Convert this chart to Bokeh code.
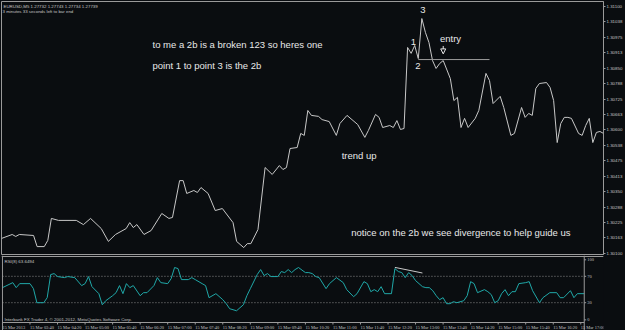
from bokeh.plotting import figure
from bokeh.layouts import column
from bokeh.models import (Range1d, LinearAxis, FixedTicker, Label, LabelSet, ColumnDataSource,
                          Span, PrintfTickFormatter, Arrow, NormalHead)
from bokeh.embed import file_html
from bokeh.resources import INLINE

# ---------------- data ----------------
# bar index (M5 bars from 15 Mar 03:00) and close price at the line's vertices
price_t = [0, 3, 4, 5, 9, 10, 12, 13, 14, 16, 21, 23, 25, 28, 30, 32, 35, 36, 37, 38,
           40, 42, 45, 47, 48, 50, 51, 52, 54, 55, 56, 58, 60, 62, 65, 66, 68, 69, 70, 72,
           74, 76, 78, 79, 80, 81, 83, 84, 85, 86, 87, 89, 90, 92, 94, 95, 97, 100, 102, 103,
           105, 106, 107, 109, 110, 111, 112, 113, 114, 115, 116, 117, 118, 119, 120, 121, 122, 123, 124, 126,
           127, 128, 129, 130, 131, 133, 134, 136, 137, 138, 140, 141, 143, 144, 146, 147, 148, 149, 150, 151,
           153, 154, 155, 156, 157, 158, 159, 160, 162, 163, 164, 165, 166, 167, 168, 169]
price_close = [1.30161, 1.30177, 1.30169, 1.30177, 1.30173, 1.30128, 1.30128, 1.30153, 1.30242, 1.30234,
               1.30234, 1.30217, 1.30242, 1.30201, 1.30149, 1.30177, 1.30201, 1.30225, 1.30205, 1.30217,
               1.30177, 1.30193, 1.30262, 1.30242, 1.30246, 1.30395, 1.30395, 1.30343, 1.30355, 1.30347,
               1.30367, 1.30343, 1.30274, 1.30282, 1.30225, 1.30149, 1.30124, 1.30140, 1.30140, 1.30197,
               1.30448, 1.30420, 1.30456, 1.30440, 1.30448, 1.30525, 1.30529, 1.30586, 1.30578, 1.30679,
               1.30659, 1.30655, 1.30642, 1.30634, 1.30578, 1.30626, 1.30659, 1.30622, 1.30570, 1.30598,
               1.30663, 1.30651, 1.30610, 1.30618, 1.30610, 1.30638, 1.30602, 1.30606, 1.30934, 1.30910,
               1.30942, 1.30889, 1.31051, 1.30995, 1.30954, 1.30881, 1.30849, 1.30869, 1.30881, 1.30808,
               1.30719, 1.30732, 1.30610, 1.30647, 1.30610, 1.30647, 1.30679, 1.30829, 1.30800, 1.30707,
               1.30736, 1.30691, 1.30578, 1.30586, 1.30691, 1.30651, 1.30667, 1.30659, 1.30768, 1.30788,
               1.30792, 1.30772, 1.30719, 1.30549, 1.30626, 1.30651, 1.30651, 1.30647, 1.30586, 1.30578,
               1.30618, 1.30647, 1.30549, 1.30590, 1.30594, 1.30586]

rsi_t = [0, 3, 4, 5, 8, 9, 10, 12, 13, 14, 15, 16, 18, 19, 21, 23, 24, 25, 26, 28,
         29, 30, 32, 33, 34, 35, 36, 37, 38, 40, 41, 42, 44, 45, 46, 48, 49, 50, 51, 52,
         54, 55, 56, 58, 59, 60, 62, 64, 65, 66, 68, 69, 70, 71, 72, 74, 75, 76, 77, 78,
         80, 81, 82, 83, 84, 85, 86, 88, 89, 90, 91, 92, 94, 95, 97, 99, 100, 102, 103, 105,
         106, 107, 108, 109, 110, 111, 113, 114, 115, 116, 117, 118, 119, 120, 122, 123, 124, 125, 126, 127,
         128, 129, 130, 131, 132, 134, 135, 136, 137, 138, 140, 141, 142, 143, 144, 145, 146, 147, 148, 149,
         150, 152, 153, 154, 156, 157, 159, 161, 162, 163, 165, 166, 167, 169]
rsi_val = [52.8, 60.4, 52.8, 58.9, 58.9, 51.3, 30.0, 30.0, 37.6, 72.6, 74.1, 69.6, 68.0, 69.6, 68.0, 55.9, 58.9, 69.6, 54.3, 43.7,
           26.9, 33.0, 40.6, 45.2, 55.9, 43.7, 58.9, 52.8, 55.9, 40.6, 45.2, 45.2, 55.9, 68.0, 60.4, 58.9, 66.5, 83.3, 81.7, 65.0,
           65.0, 68.0, 65.0, 58.9, 55.9, 37.6, 43.7, 34.6, 28.5, 20.9, 17.8, 22.4, 26.9, 40.6, 51.3, 72.6, 80.2, 71.1, 74.1, 69.6,
           69.6, 77.2, 75.6, 80.2, 75.6, 80.2, 83.3, 75.6, 75.6, 74.1, 69.6, 68.0, 51.3, 58.9, 68.0, 60.4, 49.8, 39.1, 43.7, 61.9,
           58.9, 46.7, 49.8, 46.7, 54.3, 43.7, 43.7, 81.7, 77.2, 75.6, 68.0, 75.6, 71.1, 63.5, 54.3, 52.8, 52.8, 48.2, 40.6, 34.6,
           37.6, 28.5, 28.5, 31.5, 30.0, 33.0, 40.6, 61.9, 58.9, 45.2, 49.8, 46.7, 42.2, 30.0, 33.0, 43.7, 49.8, 40.6, 46.7, 46.7,
           58.9, 60.4, 61.9, 48.2, 30.0, 37.6, 45.2, 45.2, 37.6, 37.6, 48.2, 37.6, 43.7, 43.7]

price_ticks = [1.31100, 1.31038, 1.30975, 1.30913, 1.30850, 1.30788, 1.30725, 1.30663, 1.30600,
               1.30538, 1.30475, 1.30413, 1.30350, 1.30288, 1.30225, 1.30163, 1.30100]
# RSI scale labels (MT4 pulls the 100 and 0 labels inside the window)
rsi_tick_pos = [95, 70, 30, 4]
rsi_tick_labels = ["100", "70", "30", "0"]
rsi_levels = [70, 30]
time_ticks = [0, 8, 16, 24, 32, 40, 48, 56, 64, 72, 80, 88, 96, 104, 112, 120, 128, 136, 144, 152, 160, 168]
time_tick_labels = ["15 Mar 2013", "15 Mar 03:40", "15 Mar 04:20", "15 Mar 05:00", "15 Mar 05:40",
                    "15 Mar 06:20", "15 Mar 07:00", "15 Mar 07:40", "15 Mar 08:20", "15 Mar 09:00",
                    "15 Mar 09:40", "15 Mar 10:20", "15 Mar 11:00", "15 Mar 11:40", "15 Mar 12:20",
                    "15 Mar 13:00", "15 Mar 13:40", "15 Mar 14:20", "15 Mar 15:00", "15 Mar 15:40",
                    "15 Mar 16:20", "15 Mar 17:00"]
entry_t = [117, 137]
entry_price = [1.30885, 1.30885]
div_t = [114, 122]
div_rsi = [83.5, 75.0]

header_1 = "EURUSD,M5  1.27732 1.27743 1.27734 1.27739"
header_2 = "3 minutes 33 seconds left to bar end"
rsi_title = "RSI(8) 63.6494"
copyright_txt = "Interbank FX Trader 4, \u00a9 2001-2012, MetaQuotes Software Corp."

# ---------------- style / layout constants ----------------
BG = "#0a0d10"
GRID = "#9a9a9a"
SMALL = "#c4c4c4"
ANN = "#e8e8e8"
TINY = "4.4px"
FONT = "Liberation Sans"
W = 625
BORDER_R = 20
X_END = 169.0
FRAME_W = W - 1 - BORDER_R
PX_PER_BAR = FRAME_W / X_END
RSI_PX_PER_UNIT = 0.66      # 100 -> 66 px
RSI_H = 75

# ---------------- price panel ----------------
p = figure(width=W, height=255, x_range=Range1d(0, X_END), y_range=Range1d(1.30096, 1.31120),
           output_backend="svg", toolbar_location=None, title=None,
           x_axis_type=None, y_axis_type=None,
           background_fill_color=BG, border_fill_color=BG,
           min_border_left=1, min_border_right=BORDER_R, min_border_top=1, min_border_bottom=1,
           outline_line_color=GRID)
p.grid.visible = False
yax = LinearAxis(ticker=FixedTicker(ticks=price_ticks), formatter=PrintfTickFormatter(format="%.5f"),
                 major_label_text_font_size=TINY, major_label_text_color=SMALL,
                 major_label_text_font=FONT, major_tick_out=2, major_tick_in=0,
                 minor_tick_out=0, minor_tick_in=0, major_label_standoff=1,
                 axis_line_color=GRID, major_tick_line_color=GRID)
p.add_layout(yax, "right")

p.line(price_t, price_close, line_color="#c8c8c8", line_width=1)
p.line(entry_t, entry_price, line_color="#9c9c9c", line_width=1)

y_top = p.y_range.end
p.add_layout(Label(x=0, y=y_top, text=header_1, x_offset=2, y_offset=-2, text_baseline="top",
                   text_font_size=TINY, text_color=SMALL, text_font=FONT))
p.add_layout(Label(x=0, y=y_top, text=header_2, x_offset=1, y_offset=-7, text_baseline="top",
                   text_font_size=TINY, text_color=SMALL, text_font=FONT))


def ann(x, y, text, align="left", size="9.5px"):
    p.add_layout(Label(x=x, y=y, text=text, text_align=align, text_baseline="middle",
                       text_font_size=size, text_color=ANN, text_font=FONT))


ann(42.4, 1.30946, "to me a 2b is a broken 123 so heres one")
ann(42.4, 1.30861, "point 1 to point 3 is the 2b")
ann(95.5, 1.30497, "trend up")
ann(98.2, 1.30185, "notice on the 2b we see divergence to help guide us")
ann(115.6, 1.30958, "1", align="center")
ann(116.9, 1.30857, "2", align="center")
ann(118.3, 1.31084, "3", align="center")
ann(123.1, 1.30970, "entry")
p.add_layout(Arrow(end=NormalHead(size=5, fill_color=None, line_color=ANN, line_width=1),
                   x_start=124.0, y_start=1.30940, x_end=124.0, y_end=1.30908,
                   line_color=ANN, line_width=1))

# ---------------- RSI panel (full-width frame, same bar scale) ----------------
r = figure(width=W, height=RSI_H,
           x_range=Range1d(-1 / PX_PER_BAR, (W - 1) / PX_PER_BAR),
           y_range=Range1d(-(RSI_H - 1 - 100 * RSI_PX_PER_UNIT) / RSI_PX_PER_UNIT,
                           100 + 1 / RSI_PX_PER_UNIT),
           output_backend="svg", toolbar_location=None, title=None,
           x_axis_type=None, y_axis_type=None,
           background_fill_color=BG, border_fill_color=BG,
           min_border_left=0, min_border_right=0, min_border_top=0, min_border_bottom=0,
           outline_line_color=None)
r.grid.visible = False

# panel frame lines
r.add_layout(Span(location=100, dimension="width", line_color=GRID, line_width=1))
r.add_layout(Span(location=0, dimension="height", line_color=GRID, line_width=1))
r.add_layout(Span(location=X_END, dimension="height", line_color=GRID, line_width=1))
r.segment(x0=[0], x1=[X_END], y0=[0], y1=[0], line_color=GRID, line_width=1)

# level lines
r.segment(x0=[0] * len(rsi_levels), x1=[X_END] * len(rsi_levels), y0=rsi_levels, y1=rsi_levels,
          line_color="#8a8a8a", line_dash="1 2", line_width=1)

# time-axis tick marks and labels
tick_len_rsi = 2 / RSI_PX_PER_UNIT
r.segment(x0=time_ticks, x1=time_ticks, y0=[0] * len(time_ticks),
          y1=[-tick_len_rsi] * len(time_ticks), line_color=GRID, line_width=1)
src_tt = ColumnDataSource(dict(x=time_ticks, y=[0] * len(time_ticks), text=time_tick_labels))
r.add_layout(LabelSet(x="x", y="y", text="text", source=src_tt, y_offset=-2.5,
                      text_font_size=TINY, text_color=SMALL, text_baseline="top",
                      text_align="left", text_font=FONT))

# value-axis tick marks and labels
tick_len_bar = 2 / PX_PER_BAR
r.segment(x0=[X_END] * 4, x1=[X_END + tick_len_bar] * 4, y0=rsi_tick_pos, y1=rsi_tick_pos,
          line_color=GRID, line_width=1)
src_rt = ColumnDataSource(dict(x=[X_END] * 4, y=rsi_tick_pos, text=rsi_tick_labels))
r.add_layout(LabelSet(x="x", y="y", text="text", source=src_rt, x_offset=3,
                      text_font_size=TINY, text_color=SMALL, text_baseline="middle",
                      text_align="left", text_font=FONT))

r.line(rsi_t, rsi_val, line_color="#20a8a8", line_width=1)
r.line(div_t, div_rsi, line_color="#c8c8c8", line_width=1)

r.add_layout(Label(x=0, y=100, text=rsi_title, x_offset=2, y_offset=-2, text_baseline="top",
                   text_font_size=TINY, text_color=SMALL, text_font=FONT))
r.add_layout(Label(x=0, y=0, text=copyright_txt, x_offset=2, y_offset=1, text_baseline="bottom",
                   text_font_size=TINY, text_color=SMALL, text_font=FONT))

layout = column(p, r, spacing=0)
layout.styles = {"background-color": BG}
open("out.html", "w").write(file_html(layout, INLINE))
